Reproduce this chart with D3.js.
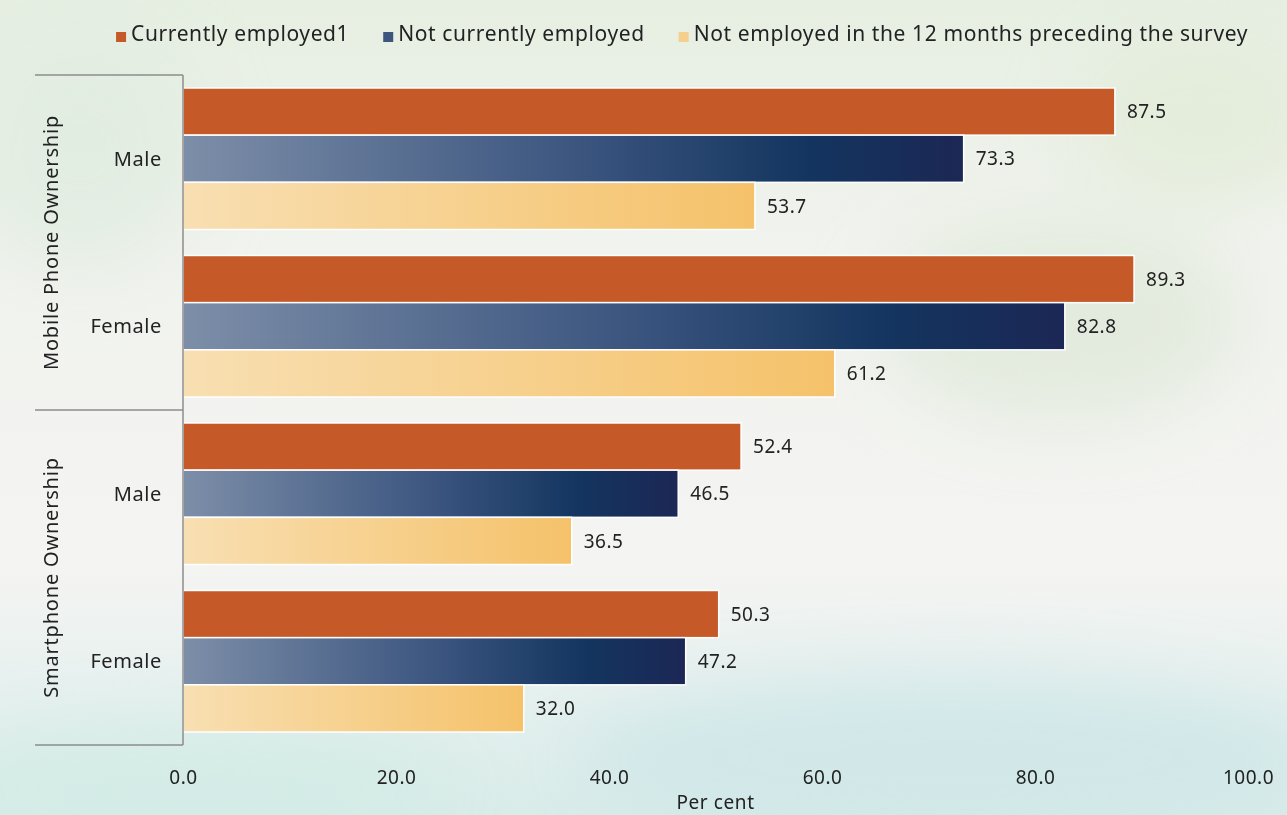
<!DOCTYPE html>
<html>
<head>
<meta charset="utf-8">
<script src="https://cdn.jsdelivr.net/npm/d3@7"></script>
<style>
  body { margin: 0; background: #f2f4ef; }
  svg { display: block; font-family: "Noto Sans", "Lato", sans-serif; }
</style>
</head>
<body>
<svg id="chart" width="1287" height="815"></svg>
<script>
// groups on the category axis, top to bottom
var groups = ["Mobile Phone Ownership", "Smartphone Ownership"];
var sexes = ["Male", "Female"];
var series = ["Currently employed1", "Not currently employed", "Not employed in the 12 months preceding the survey"];
// one value per row: Mobile/Male, Mobile/Female, Smartphone/Male, Smartphone/Female
var employedVals = [87.5, 89.3, 52.4, 50.3];
var notEmployedVals = [73.3, 82.8, 46.5, 47.2];
var notEmployed12Vals = [53.7, 61.2, 36.5, 32.0];
var xTicks = [0, 20, 40, 60, 80, 100];

(function () {
var W = 1287, H = 815;
var margin = {top: 75, right: 39, bottom: 70, left: 183};

var svg = d3.select("#chart");
var defs = svg.append("defs");

// background wash
var bg = defs.append("linearGradient").attr("id", "bg").attr("x1", 0).attr("y1", 0).attr("x2", 0).attr("y2", 1);
bg.append("stop").attr("offset", "0%").attr("stop-color", "#e6efe2");
bg.append("stop").attr("offset", "30%").attr("stop-color", "#f1f3ee");
bg.append("stop").attr("offset", "70%").attr("stop-color", "#f4f4f2");
bg.append("stop").attr("offset", "88%").attr("stop-color", "#e3f0ee");
bg.append("stop").attr("offset", "100%").attr("stop-color", "#d9ece9");

defs.append("filter").attr("id", "blur").attr("x", "-50%").attr("y", "-50%").attr("width", "200%").attr("height", "200%")
  .append("feGaussianBlur").attr("stdDeviation", 35);

svg.append("rect").attr("width", W).attr("height", H).attr("fill", "url(#bg)");
var blobs = svg.append("g").attr("filter", "url(#blur)");
blobs.append("ellipse").attr("cx", 1060).attr("cy", 320).attr("rx", 180).attr("ry", 100).attr("fill", "#e1eadb").attr("opacity", 0.9);
blobs.append("ellipse").attr("cx", 1200).attr("cy", 120).attr("rx", 120).attr("ry", 80).attr("fill", "#e2ecd8").attr("opacity", 0.8);
blobs.append("ellipse").attr("cx", 80).attr("cy", 150).attr("rx", 120).attr("ry", 120).attr("fill", "#e0ece0").attr("opacity", 0.8);
blobs.append("ellipse").attr("cx", 950).attr("cy", 760).attr("rx", 380).attr("ry", 80).attr("fill", "#cfe7e8").attr("opacity", 0.9);
blobs.append("ellipse").attr("cx", 200).attr("cy", 790).attr("rx", 260).attr("ry", 60).attr("fill", "#d3ebe6").attr("opacity", 0.9);

// bar gradients
var gBlue = defs.append("linearGradient").attr("id", "gBlue");
gBlue.append("stop").attr("offset", "0%").attr("stop-color", "#7d8ea8");
gBlue.append("stop").attr("offset", "50%").attr("stop-color", "#3c5680");
gBlue.append("stop").attr("offset", "80%").attr("stop-color", "#13355f");
gBlue.append("stop").attr("offset", "100%").attr("stop-color", "#1c2755");
var gYellow = defs.append("linearGradient").attr("id", "gYellow");
gYellow.append("stop").attr("offset", "0%").attr("stop-color", "#f8dfb2");
gYellow.append("stop").attr("offset", "100%").attr("stop-color", "#f5c26a");

var fills = ["#c55a28", "url(#gBlue)", "url(#gYellow)"];
var legendFills = ["#c55a28", "#3c5680", "#f5cf8d"];

// rows
var rows = [];
groups.forEach(function (g, gi) {
  sexes.forEach(function (s, si) {
    var i = gi * 2 + si;
    rows.push({group: g, sex: s, id: g + "|" + s,
      values: [employedVals[i], notEmployedVals[i], notEmployed12Vals[i]]});
  });
});

var x = d3.scaleLinear().domain([0, 100]).range([margin.left, W - margin.right]);
var y = d3.scaleBand().domain(rows.map(function (d) { return d.id; }))
  .range([margin.top, H - margin.bottom]).paddingInner(0.155).paddingOuter(0.0775);
var ySub = d3.scaleBand().domain([0, 1, 2]).range([0, y.bandwidth()]);

// bars
var rowG = svg.append("g").selectAll(".row").data(rows).enter().append("g")
  .attr("class", "row")
  .attr("transform", function (d) { return "translate(0," + y(d.id) + ")"; });

rowG.selectAll("rect").data(function (d) { return d.values; }).enter().append("rect")
  .attr("x", x(0))
  .attr("y", function (d, i) { return ySub(i); })
  .attr("width", function (d) { return x(d) - x(0); })
  .attr("height", ySub.bandwidth())
  .attr("fill", function (d, i) { return fills[i]; })
  .attr("stroke", "#fff")
  .attr("stroke-width", 1.5);

rowG.selectAll("text").data(function (d) { return d.values; }).enter().append("text")
  .attr("x", function (d) { return x(d) + 12; })
  .attr("y", function (d, i) { return ySub(i) + ySub.bandwidth() / 2; })
  .attr("dy", "0.35em")
  .attr("font-size", 19)
  .attr("letter-spacing", 0.5)
  .attr("fill", "#222")
  .text(function (d) { return d3.format(".1f")(d); });

// category axis
var axisCol = "#8c8c8c";
var yTop = margin.top, yBottom = H - margin.bottom;
var yMid = y(rows[2].id) - y.step() * y.paddingInner() / 2;
svg.append("line").attr("x1", x(0)).attr("x2", x(0)).attr("y1", yTop).attr("y2", yBottom)
  .attr("stroke", axisCol).attr("stroke-width", 1.5);
[yTop, yMid, yBottom].forEach(function (yy) {
  svg.append("line").attr("x1", 35).attr("x2", x(0)).attr("y1", yy).attr("y2", yy)
    .attr("stroke", axisCol).attr("stroke-width", 1.5);
});

svg.append("g").selectAll("text").data(rows).enter().append("text")
  .attr("x", 162)
  .attr("y", function (d) { return y(d.id) + y.bandwidth() / 2; })
  .attr("dy", "0.35em")
  .attr("text-anchor", "end")
  .attr("font-size", 20)
  .attr("letter-spacing", 0.6)
  .attr("fill", "#222")
  .text(function (d) { return d.sex; });

svg.append("g").selectAll("text").data(groups).enter().append("text")
  .attr("transform", function (d, i) {
    var cy = i === 0 ? (yTop + yMid) / 2 : (yMid + yBottom) / 2;
    return "translate(58," + cy + ") rotate(-90)";
  })
  .attr("text-anchor", "middle")
  .attr("font-size", 20)
  .attr("letter-spacing", 0.8)
  .attr("fill", "#222")
  .text(function (d) { return d; });

// x axis (labels only)
var xAxis = svg.append("g").attr("transform", "translate(0," + (yBottom + 22) + ")")
  .call(d3.axisBottom(x).tickValues(xTicks).tickFormat(d3.format(".1f")).tickSize(0));
xAxis.select(".domain").remove();
xAxis.selectAll("text").attr("font-size", 19).attr("fill", "#222")
  .attr("letter-spacing", 0.5)
  .attr("font-family", "'Noto Sans', Lato, sans-serif");

svg.append("text").attr("x", (x(0) + x(100)) / 2).attr("y", 809)
  .attr("text-anchor", "middle").attr("font-size", 19).attr("fill", "#222")
  .attr("letter-spacing", 0.6)
  .text("Per cent");

// legend
var legend = svg.append("g");
var items = legend.selectAll("g").data(series).enter().append("g");
items.append("rect").attr("width", 10).attr("height", 10).attr("y", -9)
  .attr("fill", function (d, i) { return legendFills[i]; });
items.append("text").attr("x", 15).attr("font-size", 21).attr("fill", "#222")
  .attr("letter-spacing", 0.6)
  .text(function (d) { return d; });
var gap = 34, lx = 0;
items.each(function () {
  var w = this.getBBox().width;
  d3.select(this).attr("transform", "translate(" + lx + ",0)");
  lx += w + gap;
});
legend.attr("transform", "translate(" + (1248 - (lx - gap)) + ",41)");
})();
</script>
</body>
</html>
